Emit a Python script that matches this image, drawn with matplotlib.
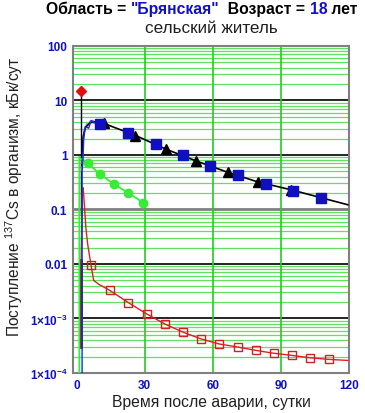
import numpy as np
import matplotlib
matplotlib.use("Agg")
import matplotlib.pyplot as plt
from matplotlib.ticker import FixedLocator, FixedFormatter, NullFormatter

plt.rcParams['font.family'] = ['Liberation Sans', 'DejaVu Sans']
plt.rcParams['mathtext.fontset'] = 'custom'
plt.rcParams['mathtext.rm'] = 'Liberation Sans'
plt.rcParams['mathtext.bf'] = 'Liberation Sans:bold'

BLUE = '#1010c8'

# --- data (days, kBq/day) ---
diamond_t = [2.0]
diamond_v = [14.6]

# black model curve (rise + decline)
black_t = [2.3, 3.0, 4.0, 6.0, 9.0, 12.0, 25.8, 39.4, 52.6, 66.7, 79.9, 94.5, 107.6, 119.5]
black_v = [0.9, 2.2, 3.2, 3.9, 4.1, 3.8, 2.3, 1.28, 0.78, 0.48, 0.32, 0.23, 0.165, 0.122]
tri_t = [12.0, 25.8, 39.4, 52.6, 66.7, 79.9, 94.5]
tri_v = [3.8, 2.26, 1.27, 0.78, 0.48, 0.32, 0.23]

# blue model curve (thin)
blue_t = [2.5, 2.5, 2.9, 3.2, 3.9, 5.4, 6.5, 7.6, 10.5]
blue_v = [1e-5, 0.5, 0.8, 1.9, 3.3, 3.1, 4.3, 3.9, 3.7]
sq_t = [10.5, 22.9, 34.9, 47.0, 59.0, 71.0, 83.5, 95.2, 107.6]
sq_v = [3.66, 2.5, 1.57, 0.99, 0.63, 0.43, 0.29, 0.22, 0.16]

# pink dashed curve
pink_t = [2.4, 2.8, 3.5, 5.0, 7.0, 9.0]
pink_v = [0.5, 1.8, 3.0, 4.0, 4.3, 4.1]

# green series
green_t = [1.3, 1.3, 5.1, 10.5, 16.6, 22.9, 29.5]
green_v = [1e-5, 0.93, 0.70, 0.44, 0.29, 0.20, 0.133]
gcirc_t = [5.1, 10.5, 16.6, 22.9, 29.5]
gcirc_v = [0.70, 0.44, 0.29, 0.20, 0.133]

# red series
red_t = [2.0, 2.1, 2.6, 3.0, 3.5, 4.2, 4.9, 6.4, 7.6, 10.0, 14.6, 22.9, 31.0, 39.0, 47.0,
         55.0, 63.0, 71.0, 79.0, 87.0, 95.0, 103.0, 111.0, 119.5]
red_v = [3e-4, 0.012, 0.2, 0.25, 0.12, 0.045, 0.024, 0.0096, 0.005, 0.0042, 0.0033, 0.00195,
         0.00121, 0.00079, 0.00056, 0.00042, 0.00034, 0.00030, 0.00026, 0.00023, 0.00021,
         0.00019, 0.000178, 0.00017]
rsq_t = [6.4, 14.6, 22.9, 31.0, 39.0, 47.0, 55.0, 63.0, 71.0, 79.0, 87.0, 95.0, 103.0, 111.0]
rsq_v = [0.0096, 0.0033, 0.00195, 0.00121, 0.00079, 0.00056, 0.00042, 0.00034, 0.00030,
         0.00026, 0.00023, 0.00021, 0.00019, 0.000178]

xticks = [0, 30, 60, 90, 120]
yticks = [1e-4, 1e-3, 1e-2, 1e-1, 1, 10, 100]
ylabels = [r'$\mathbf{1{\times}10^{-4}}$', r'$\mathbf{1{\times}10^{-3}}$', '0.01', '0.1', '1', '10', '100']

fig = plt.figure(figsize=(3.65, 4.14), dpi=100)
ax = fig.add_axes([0.2, 0.0966, 0.756, 0.79])
ax.set_yscale('log')
ax.set_xlim(-1.5, 120)
ax.set_ylim(1e-4, 100)

# grid
minors = [m * 10.0 ** e for e in range(-4, 2) for m in range(2, 10)]
for v in minors:
    ax.axhline(v, color='#5fe35f', lw=0.9, zorder=0)
for v in [10, 1, 0.01, 0.001]:
    ax.axhline(v, color='black', lw=1.2, zorder=0.5)
ax.axhline(0.1, color='#808080', lw=2, zorder=0.5)
for v in [30, 60, 90]:
    ax.axvline(v, color='#22cc22', lw=1.2, zorder=0.5)

# series
ax.plot([2.0, 2.0], [0.08, 14.6], color='black', lw=1, zorder=3)
ax.plot(red_t, red_v, color='#e02020', lw=1, zorder=3)
ax.plot([2.0, 2.0], [3e-4, 0.012], color='#8b0a1a', lw=2, zorder=3)
ax.plot(rsq_t, rsq_v, ls='none', marker='s', ms=6, mfc='none', mec='#d02020', mew=1, zorder=4)
ax.plot(green_t, green_v, color='#33ee33', lw=1.3, zorder=3)
ax.plot(gcirc_t, gcirc_v, ls='none', marker='o', ms=6, color='#33ee33', zorder=4)
ax.plot(blue_t, blue_v, color='#1030e0', lw=1, zorder=3.5)
ax.plot(pink_t, pink_v, color='#d070d0', lw=1, ls='--', zorder=3)
ax.plot(black_t, black_v, color='black', lw=1.2, zorder=3)
ax.plot(tri_t, tri_v, ls='none', marker='^', ms=7, color='black', zorder=4)
ax.plot(sq_t, sq_v, ls='none', marker='s', ms=7, color='#1010c0', zorder=5)
ax.plot(diamond_t, diamond_v, ls='none', marker='D', ms=5.5, color='#e01010', zorder=6)

# ticks
ax.yaxis.set_major_locator(FixedLocator(yticks))
ax.yaxis.set_major_formatter(FixedFormatter(ylabels))
ax.yaxis.set_minor_formatter(NullFormatter())
ax.tick_params(axis='y', which='minor', length=0)
ax.set_xticks(xticks)
ax.tick_params(length=0, pad=4, labelsize=8.5, labelcolor=BLUE)
for lab in ax.get_xticklabels() + ax.get_yticklabels():
    lab.set_fontweight('bold')

for s in ax.spines.values():
    s.set_color('#808080')
    s.set_linewidth(1.5)

ax.set_xlabel('Время после аварии, сутки', fontsize=11.3, color='#202020')
ax.xaxis.set_label_coords(0.5, -0.065)
fig.text(0.038, 0.524, 'Поступление $^{137}$Cs в организм, кБк/сут', fontsize=11.2,
         rotation=90, ha='center', va='center', color='#202020')

# titles
parts = [('Область = ', 'black'), ('"Брянская"', BLUE), ('  Возраст = ', 'black'),
         ('18', BLUE), (' лет', 'black')]
texts = [fig.text(0, 0.978, s, color=c, fontsize=11.3, fontweight='bold', va='center')
         for s, c in parts]
fig.canvas.draw()
r = fig.canvas.get_renderer()
W = fig.bbox.width
widths = [t.get_window_extent(r).width for t in texts]
x = 202 - sum(widths) / 2
for t, w in zip(texts, widths):
    t.set_x(x / W)
    x += w
fig.text(0.578, 0.932, 'сельский житель', fontsize=12.3, ha='center', va='center', color='#202020')

fig.savefig('out.png', dpi=100)
